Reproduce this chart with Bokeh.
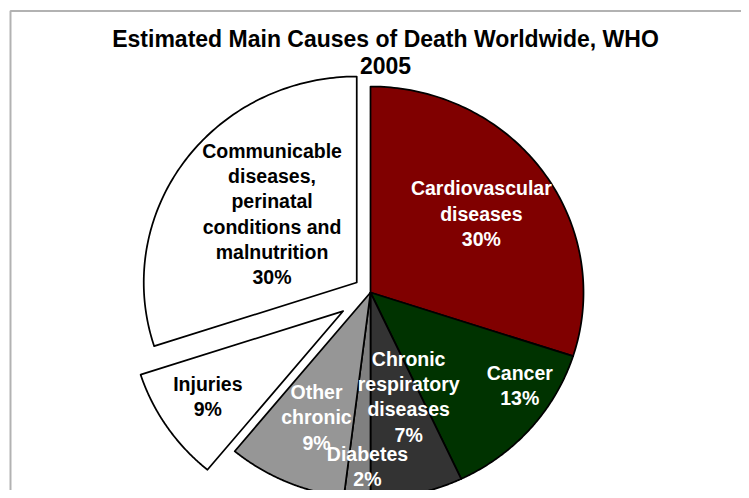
import numpy as np
from bokeh.plotting import figure
from bokeh.models import Range1d, BoxAnnotation, Label, ColumnDataSource
from bokeh.core.properties import value
from bokeh.embed import file_html
from bokeh.resources import INLINE

# ---- data ----
title_lines = ["Estimated Main Causes of Death Worldwide, WHO", "2005"]
causes = [
    "Cardiovascular\ndiseases",
    "Cancer",
    "Chronic\nrespiratory\ndiseases",
    "Diabetes",
    "Other\nchronic",
    "Injuries",
    "Communicable\ndiseases,\nperinatal\nconditions and\nmalnutrition",
]
shares = [30, 13, 7, 2, 9, 9, 30]

# ---- style ----
fills = ["#800000", "#003300", "#333333", "#808080", "#969696", "#ffffff", "#ffffff"]
label_colors = ["white", "white", "white", "white", "white", "black", "black"]
explode_px = [0, 0, 0, 0, 0, 33, 17]
label_r = [136, 176, 111, 174, 136, 160, 109]
label_dtheta = [0.6, -9.4, -7.5, -2.6, 0, 2, 3]

W, H = 741, 490
CX, CY = 370, 198      # pie centre (canvas px, y up)
RX, RY = 213, 206      # pie radii
FONT = value("Liberation Sans")

p = figure(width=W, height=H, output_backend="svg", toolbar_location=None,
           x_range=Range1d(0, W), y_range=Range1d(0, H), min_border=0)
p.axis.visible = False
p.grid.visible = False
p.outline_line_color = None
p.background_fill_color = "white"
p.border_fill_color = "white"

# chart frame
p.add_layout(BoxAnnotation(left=10, right=2000, bottom=-2000, top=479.5,
                           fill_alpha=0, line_color="black", line_width=2))

total = float(sum(shares))
bounds = np.concatenate([[0], np.cumsum(shares)]) / total * 360.0
xs, ys, lx, ly, ltxt = [], [], [], [], []
for i, s in enumerate(shares):
    t1, t2 = np.radians(bounds[i]), np.radians(bounds[i + 1])
    tm = 0.5 * (t1 + t2)
    ox = CX + explode_px[i] * np.sin(tm)
    oy = CY + explode_px[i] * np.cos(tm)
    t = np.linspace(t1, t2, 120)
    xs.append(np.concatenate([[ox], ox + RX * np.sin(t)]).tolist())
    ys.append(np.concatenate([[oy], oy + RY * np.cos(t)]).tolist())
    ta = tm + np.radians(label_dtheta[i])
    lx.append(ox + label_r[i] * np.sin(ta))
    ly.append(oy + label_r[i] * np.cos(ta))
    ltxt.append(f"{causes[i]}\n{s}%")

src = ColumnDataSource(dict(xs=xs, ys=ys, fill=fills))
p.patches("xs", "ys", source=src, fill_color="fill", line_color="black",
          line_width=1.75, line_join="round")

lsrc = ColumnDataSource(dict(x=lx, y=ly, text=ltxt, color=label_colors))
p.text("x", "y", text="text", source=lsrc, text_align="center",
       text_baseline="middle", text_color="color", text_font=FONT,
       text_font_style="bold", text_font_size="19.5px", text_line_height=1.15)

for j, line in enumerate(title_lines):
    p.add_layout(Label(x=385, y=452 - 27 * j, text=line, text_align="center",
                       text_baseline="middle", text_font="Liberation Sans",
                       text_font_style="bold", text_font_size="23px",
                       text_color="black"))

open("out.html", "w").write(file_html(p, INLINE))
